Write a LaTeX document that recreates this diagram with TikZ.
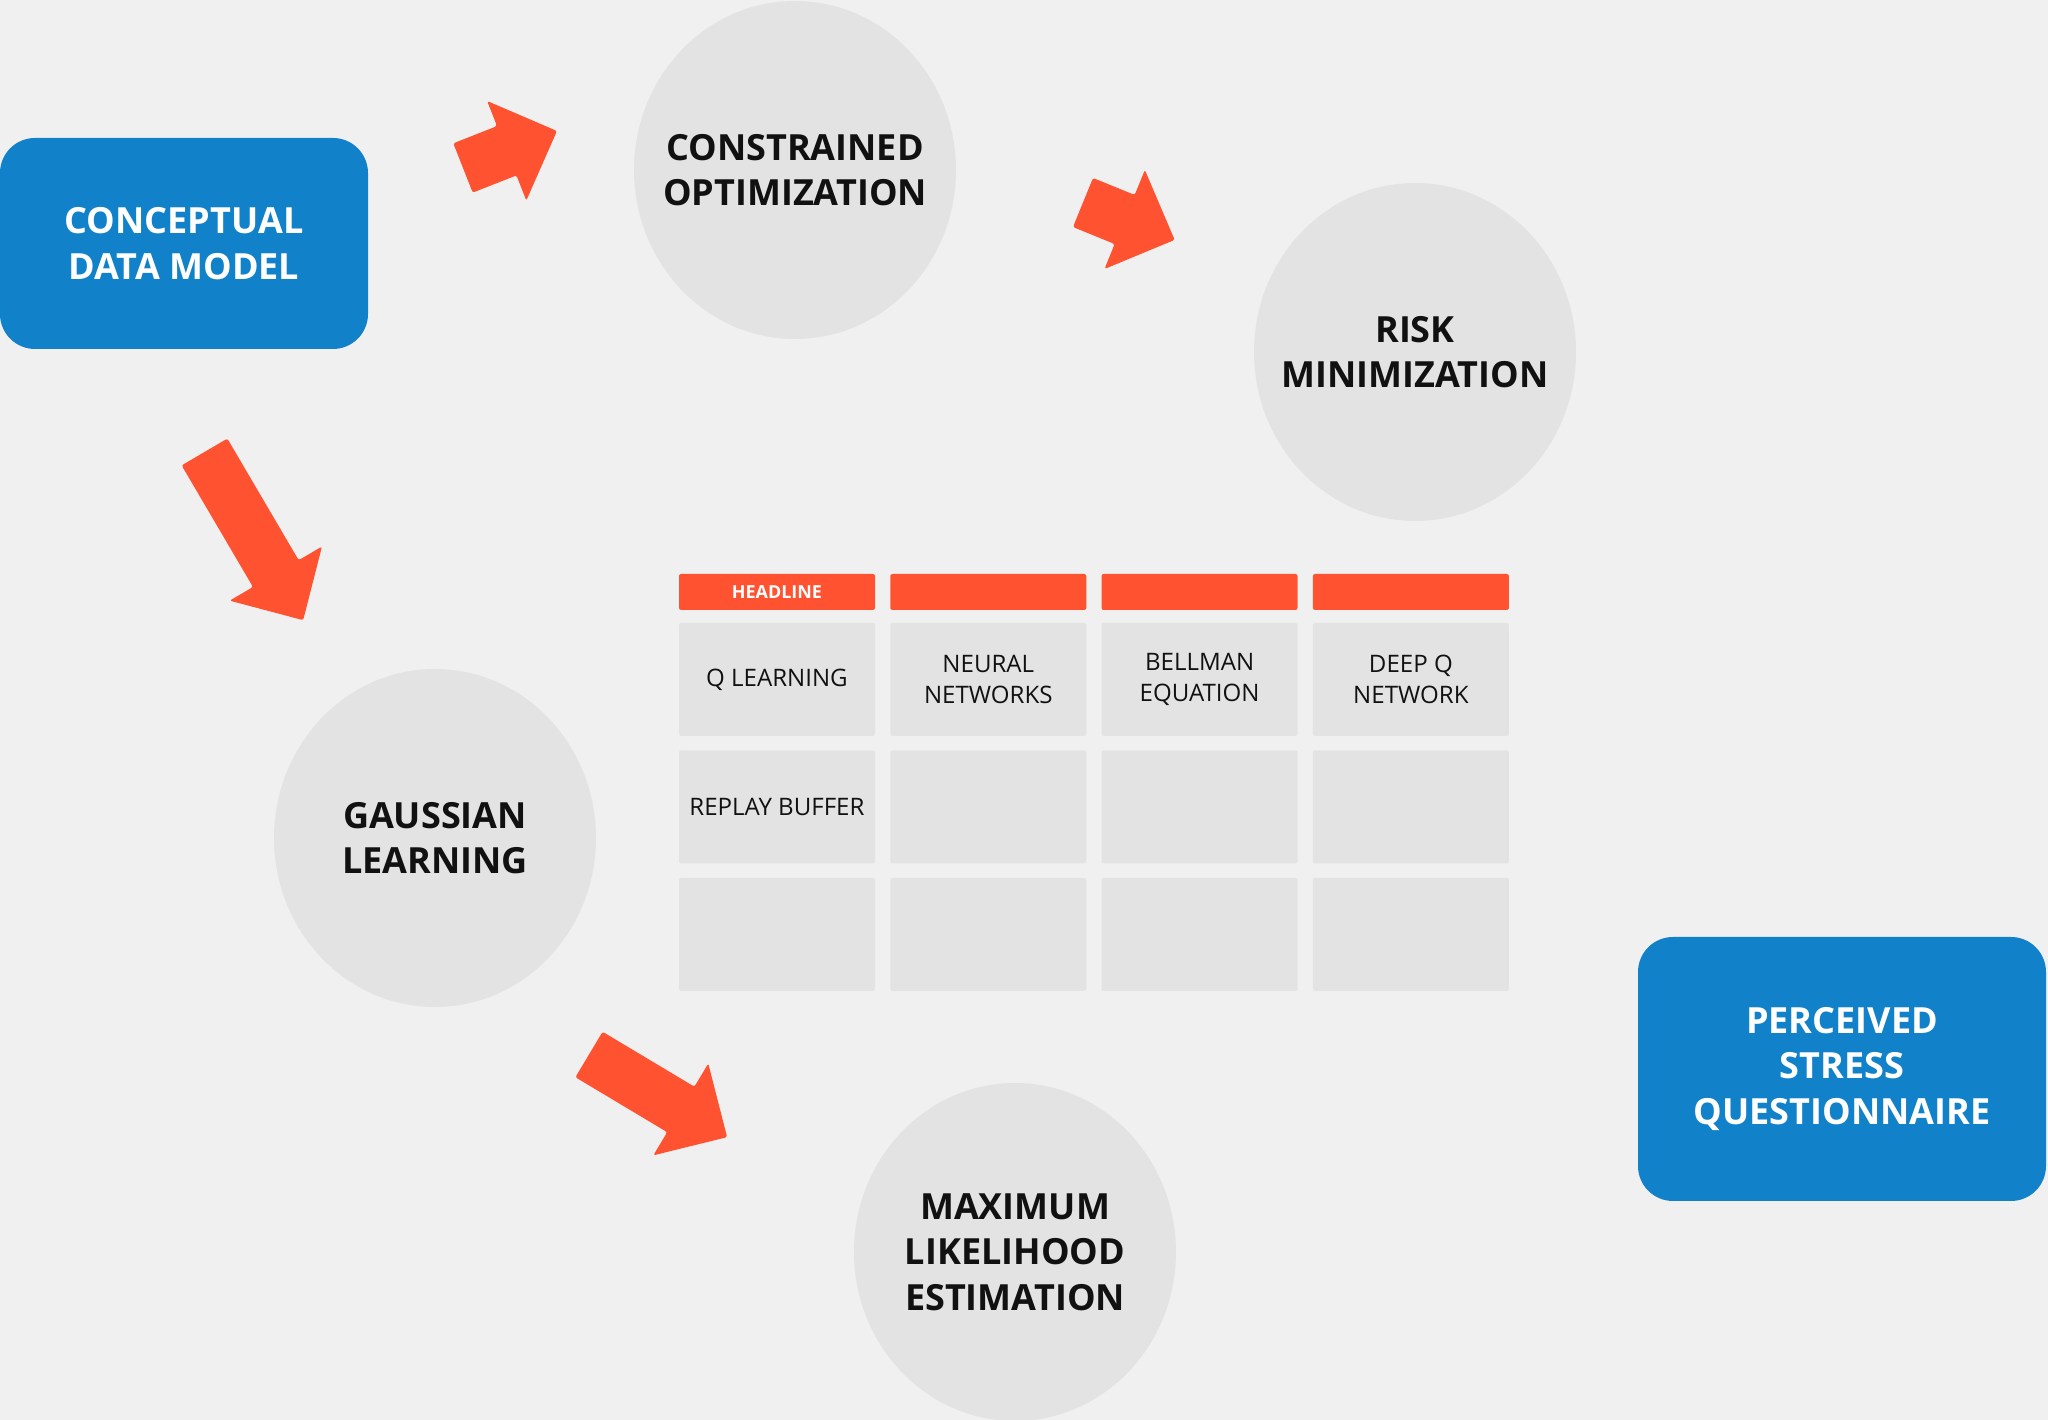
\documentclass[tikz,border=0pt]{standalone}
\usepackage{fontspec}
\setmainfont{Open Sans}
\usepackage{tikz}
\usetikzlibrary{shapes}

\definecolor{bgcol}{HTML}{F0F0F0}
\definecolor{blobgray}{HTML}{E3E3E3}
\definecolor{arrowred}{HTML}{FF5230}
\definecolor{boxblue}{HTML}{1181C9}
\definecolor{inkcol}{HTML}{111111}

\tikzset{
    bluebox/.style={fill=boxblue, rounded corners=0.35cm, inner sep=0pt, text=white,
        font=\bfseries\fontsize{10.25}{13}\selectfont, align=center},
    blob/.style={ellipse, fill=blobgray, minimum width=3.22cm, minimum height=3.38cm, inner sep=-0.8cm,
        text=inkcol, font=\bfseries\fontsize{10.25}{13}\selectfont, align=center},
    headbar/.style={fill=arrowred, rounded corners=0.6pt, minimum width=1.96cm, minimum height=0.36cm,
        inner sep=0pt, text=white, font=\bfseries\fontsize{5.1}{6}\selectfont},
    cell/.style={fill=blobgray, rounded corners=0.6pt, minimum width=1.96cm, minimum height=1.13cm,
        inner sep=0pt, text=inkcol, font=\fontsize{6.85}{9}\selectfont, align=center},
    pics/bigarrow/.style={code={
        \fill[arrowred, rounded corners=0.6pt] (0,-0.265) -- ({#1-0.54},-0.265) -- ({#1-0.54},-0.535)
            -- (#1,0) -- ({#1-0.54},0.535) -- ({#1-0.54},0.265) -- (0,0.265) -- cycle;
    }},
}

\begin{document}
\begin{tikzpicture}
        \useasboundingbox (0, 0) rectangle (20.48, 14.2);
        \fill [bgcol] (0, 0) rectangle (20.48, 14.2);

        \node [bluebox, minimum width=3.68cm, minimum height=2.11cm] (cdm) at (1.84, 11.765) {CONCEPTUAL\\DATA MODEL};
        \node [bluebox, minimum width=4.08cm, minimum height=2.64cm] (psq) at (18.42, 3.51) {PERCEIVED\\STRESS\\QUESTIONNAIRE};

        \node [blob] (copt) at (7.95, 12.50) {CONSTRAINED\\OPTIMIZATION};
        \node [blob] (risk) at (14.15, 10.68) {RISK\\MINIMIZATION};
        \node [blob] (gauss) at (4.35, 5.82) {GAUSSIAN\\LEARNING};
        \node [blob] (mle) at (10.15, 1.68) {MAXIMUM\\LIKELIHOOD\\ESTIMATION};

        \pic (arr1) [rotate=21.5] at (4.63, 12.52) {bigarrow=1.01};
        \pic (arr2) [rotate=-22.2] at (10.83, 12.175) {bigarrow=0.99};
        \pic (arr3) [rotate=-59.6] at (2.045, 9.68) {bigarrow=1.95};
        \pic (arr4) [rotate=-30.9] at (5.89, 3.655) {bigarrow=1.61};

        \node [headbar] (h1) at (7.77, 8.28) {HEADLINE};
        \node [headbar] (h2) at (9.883, 8.28) {};
        \node [headbar] (h3) at (11.996, 8.28) {};
        \node [headbar] (h4) at (14.109, 8.28) {};

        \node [cell] (c11) at (7.77, 7.405) {\raisebox{-0.6ex}{Q LEARNING}};
        \node [cell] (c12) at (9.883, 7.405) {NEURAL\\NETWORKS};
        \node [cell] (c13) at (11.996, 7.405) {BELLMAN\\EQUATION};
        \node [cell] (c14) at (14.109, 7.405) {DEEP Q\\NETWORK};

        \node [cell] (c21) at (7.77, 6.13) {REPLAY BUFFER};
        \node [cell] (c22) at (9.883, 6.13) {};
        \node [cell] (c23) at (11.996, 6.13) {};
        \node [cell] (c24) at (14.109, 6.13) {};

        \node [cell] (c31) at (7.77, 4.855) {};
        \node [cell] (c32) at (9.883, 4.855) {};
        \node [cell] (c33) at (11.996, 4.855) {};
        \node [cell] (c34) at (14.109, 4.855) {};
    \end{tikzpicture}
\end{document}
